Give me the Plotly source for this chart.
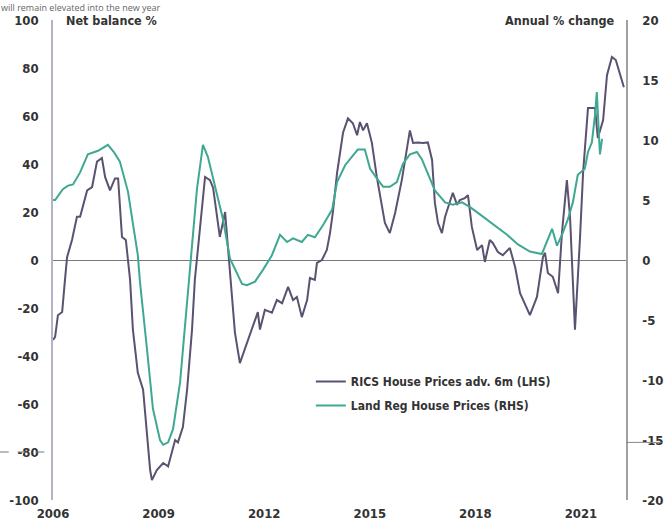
import plotly.graph_objects as go

# RICS House Prices adv. 6m (LHS) - net balance %
rics_x = [2006.00, 2006.06, 2006.14, 2006.26, 2006.34, 2006.40, 2006.54, 2006.68, 2006.77, 2006.97,
          2007.11, 2007.25, 2007.39, 2007.48, 2007.62, 2007.76, 2007.85, 2007.96, 2008.07, 2008.19,
          2008.27, 2008.41, 2008.56, 2008.76, 2008.81, 2008.95, 2009.13, 2009.27, 2009.47, 2009.55,
          2009.69, 2009.81, 2009.95, 2010.03, 2010.18, 2010.32, 2010.46, 2010.55, 2010.74, 2010.89,
          2010.97, 2011.09, 2011.17, 2011.31, 2011.51, 2011.65, 2011.82, 2011.88, 2012.02, 2012.22,
          2012.36, 2012.51, 2012.68, 2012.82, 2012.93, 2013.07, 2013.22, 2013.30, 2013.44, 2013.50,
          2013.64, 2013.78, 2013.87, 2013.95, 2014.07, 2014.24, 2014.38, 2014.52, 2014.64, 2014.72,
          2014.81, 2014.92, 2015.06, 2015.20, 2015.35, 2015.43, 2015.57, 2015.72, 2015.91, 2016.06,
          2016.14, 2016.23, 2016.37, 2016.51, 2016.65, 2016.77, 2016.85, 2016.94, 2017.05, 2017.14,
          2017.28, 2017.36, 2017.48, 2017.56, 2017.70, 2017.79, 2017.90, 2018.05, 2018.19, 2018.27,
          2018.41, 2018.50, 2018.64, 2018.78, 2018.98, 2019.13, 2019.27, 2019.47, 2019.55, 2019.75,
          2019.92, 2019.98, 2020.06, 2020.20, 2020.35, 2020.46, 2020.60, 2020.69, 2020.83, 2020.97,
          2021.06, 2021.20, 2021.40, 2021.48, 2021.63, 2021.74, 2021.88, 2021.99, 2022.11, 2022.22]
rics_y = [-33.3, -32, -23, -21.7, -8.3, 1.2, 8.3, 18, 18, 29,
          30.4, 41, 42.5, 34.6, 29, 34, 34, 9.6, 8.3, -8.3,
          -29, -47, -54, -87.5, -91.7, -87.5, -84.6, -86, -75, -76,
          -69.6, -54, -29, -8.3, 13.8, 34.6, 33.3, 30, 9.6, 20,
          5.4, -16.7, -30.4, -43, -34.6, -29, -21.7, -29, -20.8, -22,
          -16.7, -18, -11.2, -16.7, -15.4, -23.8, -16.7, -7.5, -8.3, -1.2,
          0, 4.2, 11.2, 19.6, 36.2, 53, 59, 57, 52, 57.5,
          54, 57, 48.8, 34.6, 20.8, 15.4, 11.2, 19.6, 33.3, 45.8,
          54, 48.8, 49, 48.8, 49, 41.7, 23.8, 15.4, 11.2, 18,
          25, 28, 23, 25, 25.8, 27, 13.8, 4.2, 6.2, -0.8,
          8.3, 7, 3.3, 2, 5, -2.9, -13.8, -20.8, -23, -15.4,
          1.2, 3, -5.4, -7, -13.8, 11.2, 33.3, 18, -29, 8.3,
          36.2, 63.3, 63.3, 50.8, 58.3, 77, 84.6, 83.3, 77, 72]

# Land Reg House Prices (RHS) - annual % change
lr_x = [2006.00, 2006.06, 2006.28, 2006.43, 2006.57, 2006.77, 2006.99, 2007.28, 2007.56, 2007.73,
        2007.90, 2008.13, 2008.41, 2008.47, 2008.67, 2008.84, 2009.04, 2009.13, 2009.27, 2009.41,
        2009.61, 2009.81, 2009.95, 2010.09, 2010.26, 2010.40, 2010.55, 2010.83, 2011.03, 2011.23,
        2011.37, 2011.51, 2011.74, 2011.97, 2012.22, 2012.45, 2012.65, 2012.82, 2013.07, 2013.24,
        2013.44, 2013.67, 2013.93, 2014.07, 2014.30, 2014.49, 2014.66, 2014.86, 2015.01, 2015.20,
        2015.38, 2015.57, 2015.77, 2015.94, 2016.14, 2016.34, 2016.48, 2016.65, 2016.85, 2017.14,
        2017.36, 2017.62, 2017.85, 2018.13, 2018.50, 2018.90, 2019.21, 2019.55, 2019.89, 2019.98,
        2020.18, 2020.32, 2020.49, 2020.63, 2020.77, 2020.91, 2021.11, 2021.20, 2021.31, 2021.40,
        2021.45, 2021.54, 2021.60]
lr_y = [5.0, 5.0, 5.9, 6.2, 6.3, 7.3, 8.8, 9.1, 9.6, 9.0,
        8.2, 5.7, 0.4, -1.8, -7.4, -12.4, -15.0, -15.4, -15.2, -14.1,
        -10.2, -3.2, 1.5, 5.9, 9.6, 8.6, 6.8, 3.4, 0.1, -1.2,
        -2.0, -2.1, -1.8, -0.8, 0.4, 2.1, 1.5, 1.8, 1.5, 2.1,
        1.9, 2.9, 4.2, 6.5, 7.9, 8.6, 9.2, 9.2, 7.6, 6.8,
        6.1, 6.1, 6.5, 8.0, 8.8, 9.0, 8.4, 7.2, 5.8, 4.8,
        4.6, 4.8, 4.4, 3.8, 3.0, 2.1, 1.3, 0.7, 0.5, 1.2,
        2.6, 1.2, 2.3, 3.4, 4.8, 7.1, 7.6, 9.0, 9.8, 12.1,
        14.0, 8.8, 10.1]

left_ticks = [100, 80, 60, 40, 20, 0, -20, -40, -60, -80, -100]
right_ticks = [20, 15, 10, 5, 0, -5, -10, -15, -20]
year_ticks = [2006, 2009, 2012, 2015, 2018, 2021]

FONT = "Liberation Sans Narrow, Arial Narrow, DejaVu Sans Condensed, Roboto, sans-serif"
PURPLE = "#5b5170"
TEAL = "#3fa893"
TXT = "#333333"

fig = go.Figure()
fig.add_trace(go.Scatter(x=rics_x, y=rics_y, mode="lines", name="RICS House Prices adv. 6m (LHS)",
                         line=dict(color=PURPLE, width=2), legendgroup="a", yaxis="y"))
fig.add_trace(go.Scatter(x=lr_x, y=lr_y, mode="lines", name="Land Reg House Prices (RHS)",
                         line=dict(color=TEAL, width=2), legendgroup="b", yaxis="y2"))

tick_font = dict(family=FONT, size=13, color=TXT, weight="bold")

fig.update_layout(
    width=664, height=526,
    margin=dict(l=53, r=38, t=20, b=26, autoexpand=False),
    paper_bgcolor="white", plot_bgcolor="white",
    font=dict(family=FONT, size=12, color=TXT),
    showlegend=True,
    legend=dict(x=0.45, y=0.277, xanchor="left", yanchor="top", bgcolor="rgba(0,0,0,0)",
                font=dict(family=FONT, size=12, color=TXT, weight="bold"),
                tracegroupgap=5, itemwidth=30),
    xaxis=dict(range=[2006, 2022.28], tickvals=year_ticks, ticktext=[str(v) for v in year_ticks],
               showgrid=False, zeroline=False, showline=False, ticks="", automargin=False,
               tickfont=tick_font, ticklabelstandoff=4),
    yaxis=dict(range=[-100, 100], tickvals=left_ticks, ticktext=[str(v) for v in left_ticks],
               showgrid=False, zeroline=True, automargin=False,
               zerolinecolor="#7a7a7a", zerolinewidth=1, showline=True, linecolor="#b4b2c8",
               linewidth=1.5, ticks="", ticklabelstandoff=10, tickfont=tick_font),
    yaxis2=dict(range=[-20, 20], tickvals=right_ticks, ticktext=[str(v) for v in right_ticks],
                overlaying="y", side="right", automargin=False,
                showgrid=False, zeroline=False, showline=True, linecolor="#a0a0a0", linewidth=1.5,
                ticks="", ticklabelstandoff=12, tickfont=tick_font),
    annotations=[
        dict(text="Net balance %", xref="paper", yref="paper", x=0.02, y=1.0, xanchor="left",
             yanchor="middle", showarrow=False, font=dict(family=FONT, size=12.5, color=TXT, weight="bold")),
        dict(text="Annual % change", xref="paper", yref="paper", x=0.984, y=1.0, xanchor="right",
             yanchor="middle", showarrow=False, font=dict(family=FONT, size=12.5, color=TXT, weight="bold")),
        dict(text="will remain elevated into the new year", xref="paper", yref="paper",
             x=-0.0925, y=1.0417, xanchor="left", yanchor="top", showarrow=False, borderpad=0,
             font=dict(family="Open Sans, sans-serif", size=9, color="#666666")),
    ],
    shapes=[
        dict(type="line", xref="paper", yref="y", x0=-0.093, x1=-0.015, y0=-80, y1=-80,
             line=dict(color="#777777", width=1, dash="dash")),
        dict(type="line", xref="paper", yref="y2", x0=1.0, x1=1.062, y0=-15.2, y1=-15.2,
             line=dict(color="#888888", width=1)),
    ],
)

fig.write_html("out.html", config={"displayModeBar": False},
               post_script="document.body.style.margin='0';document.body.style.overflow='hidden';")
